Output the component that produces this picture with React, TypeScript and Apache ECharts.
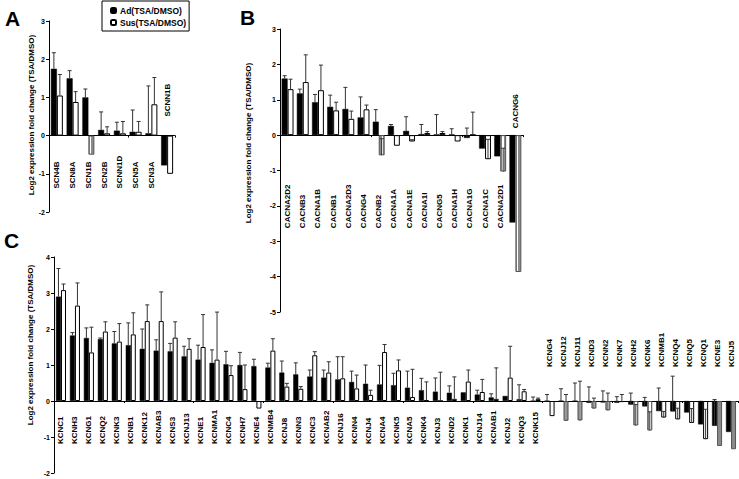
import React, { useEffect, useRef } from "react";
import * as echarts from "echarts";

// ---------------- DATA ----------------
const catsA = ["SCN4B", "SCN8A", "SCN1B", "SCN2B", "SCNN1D", "SCN5A", "SCN3A", "SCNN1B"];
const adA = [1.75, 1.5, 1.0, 0.15, 0.13, 0.1, 0.06, -0.78];
const adErrA = [0.42, 0.2, 0.22, 0.47, 0.22, 0.57, 1.24, 0];
const susA = [1.05, 0.88, -0.5, 0.06, 0.06, 0.1, 0.82, -1.0];
const susErrA = [0.55, 0.27, 0, 0.17, 0.31, 0.27, 0.7, 0];

const catsB = ["CACNA2D2", "CACNB3", "CACNA1B", "CACNB1", "CACNA2D3", "CACNG4", "CACNB2", "CACNA1A",
  "CACNA1E", "CACNA1I", "CACNG5", "CACNA1H", "CACNA1G", "CACNA1C", "CACNA2D1", "CACNG6"];
const adB = [1.6, 1.18, 0.93, 0.8, 0.74, 0.5, 0.38, 0.26, 0.12, 0.03, 0.02, 0.02, -0.08, -0.38, -0.6, -2.47];
const adErrB = [0.08, 0.12, 0.22, 0.33, 0.61, 0.58, 0.34, 0.04, 0.4, 0.27, 0.56, 0.16, 0.28, 0, 0, 0];
const susB = [1.3, 1.5, 1.27, 0.7, 0.46, 0.73, -0.57, -0.3, -0.18, 0.06, 0.06, -0.18, 0.01, -0.68, -1.03, -3.87];
const susErrB = [0.28, 0.77, 0.71, 0.23, 0.22, 0.12, 0.47, 0, 0.05, 0.04, 0.04, 0, 0.64, 0.56, 0.66, 0];

const catsC = ["KCNC1", "KCNH3", "KCNG1", "KCNQ2", "KCNK3", "KCNB1", "KCNK12", "KCNAB3", "KCNS3", "KCNJ13",
  "KCNE1", "KCNMA1", "KCNC4", "KCNH7", "KCNE4", "KCNMB4", "KCNJ8", "KCNN3", "KCNC3", "KCNAB2", "KCNJ16",
  "KCNN4", "KCNJ4", "KCNA4", "KCNK5", "KCNA5", "KCNK4", "KCNJ3", "KCND2", "KCNK1", "KCNJ14", "KCNAB1",
  "KCNJ2", "KCNQ3", "KCNK15", "KCNG4", "KCNJ12", "KCNJ11", "KCND3", "KCNN2", "KCNK7", "KCNH2", "KCNK6",
  "KCNMB1", "KCNQ4", "KCNQ5", "KCNQ1", "KCNE3", "KCNJ5"];
const adC = [2.9, 1.82, 1.75, 1.72, 1.6, 1.55, 1.45, 1.4, 1.38, 1.24, 1.15, 1.06, 1.02, 1.0, 0.97, 0.93,
  0.79, 0.74, 0.68, 0.65, 0.6, 0.53, 0.48, 0.46, 0.44, 0.37, 0.3, 0.26, 0.23, 0.24, 0.18, 0.1, 0.14, 0.05,
  0.0, 0.0, 0.0, 0.0, -0.05, -0.04, -0.05, -0.1, -0.15, -0.28, -0.29, -0.32, -0.65, -0.69, -0.86];
const adErrC = [0.78, 0.08, 0.28, 0.03, 0.33, 0.62, 0.55, 0.3, 0.22, 0.28, 0.4, 0.36, 0.36, 0.35, 0.19, 0.12,
  0.32, 0.32, 0.18, 0.21, 0.63, 0.3, 0.52, 0.53, 0.33, 0.46, 0.33, 0.38, 0.19, 0, 0.12, 0.1, 0, 0.4,
  0.11, 0.18, 0.34, 0.5, 0.44, 0.32, 0.17, 0.32, 0.25, 0.64, 0.98, 0, 0, 0.73, 0];
const susC = [3.08, 2.65, 1.35, 1.93, 1.65, 1.85, 2.22, 2.22, 1.76, 1.45, 1.5, 1.15, 0.72, 0.33, -0.21, 1.4,
  0.4, 0.34, 1.27, 0.79, 0.63, 0.35, 0.17, 1.36, 0.85, 0.11, 0.02, 0.0, 0.06, 0.54, 0.25, 0.06, 0.65, 0.27,
  0.05, -0.42, -0.55, -0.54, -0.21, -0.26, -0.03, -0.68, -0.82, -0.46, -0.51, -0.61, -1.06, -1.25, -1.34];
const susErrC = [0.17, 0.63, 0.7, 0.27, 0.5, 0.6, 0.45, 0.81, 0.44, 0.28, 0.9, 1.32, 0.26, 0.67, 0, 0.33,
  0.09, 0.06, 0.1, 0.3, 0.6, 0.37, 0.13, 0.21, 0.29, 0.77, 0.51, 0.8, 0.61, 0.32, 0.35, 0.86, 0.87, 0.05,
  0.03, 0, 0.73, 1.09, 0.29, 0.48, 0.21, 0.58, 0.52, 0.17, 0.31, 0.4, 0.83, 0, 0];

const yTicksA = [-2, 3];
const yTicksB = [-5, 3];
const yTicksC = [-2, 4];

const AD_NAME = "Ad(TSA/DMSO)";
const SUS_NAME = "Sus(TSA/DMSO)";
const Y_NAME = "Log2 expression fold change (TSA/DMSO)";

// ---------------- STYLE ----------------
const FONT = '"Liberation Sans", Arial, Helvetica, sans-serif';
const HATCHED_SUS = new Set(["SCN1B", "CACNB2", "CACNA2D1", "CACNG6", "KCNJ12", "KCNJ11", "KCND3",
  "KCNN2", "KCNH2", "KCNK6", "KCNE3", "KCNJ5"]);

type Panel = {
  cats: string[]; ad: number[]; adErr: number[]; sus: number[]; susErr: number[];
  range: number[]; grid: { left: number; top: number; width: number; height: number };
  gap: number; labelBelow: number; labelAbove: number; aboveFrom: number;
};

const panels: Panel[] = [
  { cats: catsA, ad: adA, adErr: adErrA, sus: susA, susErr: susErrA, range: yTicksA,
    grid: { left: 49, top: 21, width: 126, height: 191 }, gap: 0.24, labelBelow: 53, labelAbove: 19, aboveFrom: 7 },
  { cats: catsB, ad: adB, adErr: adErrB, sus: susB, susErr: susErrB, range: yTicksB,
    grid: { left: 280, top: 29, width: 243, height: 283 }, gap: 0.22, labelBelow: 93, labelAbove: 7, aboveFrom: 15 },
  { cats: catsC, ad: adC, adErr: adErrC, sus: susC, susErr: susErrC, range: yTicksC,
    grid: { left: 54, top: 257, width: 684, height: 216 }, gap: 0.28, labelBelow: 43, labelAbove: 34, aboveFrom: 35 },
];

function hatch() {
  return new echarts.graphic.LinearGradient(0, 0, 1, 0, [
    { offset: 0, color: "#8a8a8a" }, { offset: 0.3, color: "#8a8a8a" },
    { offset: 0.3, color: "#ffffff" }, { offset: 0.45, color: "#ffffff" },
    { offset: 0.45, color: "#8a8a8a" }, { offset: 0.55, color: "#8a8a8a" },
    { offset: 0.55, color: "#ffffff" }, { offset: 0.7, color: "#ffffff" },
    { offset: 0.7, color: "#8a8a8a" }, { offset: 1, color: "#8a8a8a" },
  ]);
}

function buildOption() {
  const grids: any[] = [];
  const xAxes: any[] = [];
  const yAxes: any[] = [];
  const series: any[] = [];

  panels.forEach((p, gi) => {
    grids.push({ ...p.grid, containLabel: false });
    xAxes.push({
      type: "category", gridIndex: gi, data: p.cats,
      axisLine: { onZero: true, lineStyle: { color: "#000", width: 1 } },
      axisTick: { show: true, length: 2, lineStyle: { color: "#000" } },
      axisLabel: { show: false }, splitLine: { show: false },
    });
    yAxes.push({
      type: "value", gridIndex: gi, min: p.range[0], max: p.range[1], interval: 1,
      axisLine: { show: true, lineStyle: { color: "#000", width: 1 } },
      axisTick: { show: true, length: 3, lineStyle: { color: "#000" } },
      axisLabel: { fontSize: 7, fontWeight: "bold", fontFamily: FONT, color: "#000", margin: 4 },
      splitLine: { show: false },
    });

    series.push({
      type: "bar", name: AD_NAME, xAxisIndex: gi, yAxisIndex: gi, data: p.ad,
      barGap: "0%", barCategoryGap: `${p.gap * 100}%`,
      itemStyle: { color: "#000", borderColor: "#000", borderWidth: 0.5 },
    });
    series.push({
      type: "bar", name: SUS_NAME, xAxisIndex: gi, yAxisIndex: gi,
      data: p.sus.map((v, i) => HATCHED_SUS.has(p.cats[i])
        ? { value: v, itemStyle: { color: hatch(), borderColor: "#555" } }
        : v),
      barGap: "0%", barCategoryGap: `${p.gap * 100}%`,
      itemStyle: { color: "#fff", borderColor: "#000", borderWidth: 1 },
    });

    const errData: any[] = [];
    p.ad.forEach((v, i) => errData.push([i, v, p.adErr[i], -1]));
    p.sus.forEach((v, i) => errData.push([i, v, p.susErr[i], 1]));
    series.push({
      type: "custom", xAxisIndex: gi, yAxisIndex: gi, z: 5, silent: true,
      data: errData,
      renderItem: (params: any, api: any) => {
        const idx = api.value(0);
        const v = api.value(1);
        const e = api.value(2);
        const side = api.value(3);
        if (!e) return null;
        const band = api.size([1, 0])[0];
        const off = side * band * (1 - p.gap) / 4;
        const a = api.coord([idx, v]);
        const b = api.coord([idx, v + e]);
        const x = a[0] + off;
        const st = { stroke: "#333", lineWidth: 1 };
        return {
          type: "group",
          children: [
            { type: "line", shape: { x1: x, y1: a[1], x2: x, y2: b[1] }, style: st },
            { type: "line", shape: { x1: x - 2, y1: b[1], x2: x + 2, y2: b[1] }, style: st },
          ],
        };
      },
    });

    series.push({
      type: "custom", xAxisIndex: gi, yAxisIndex: gi, z: 6, silent: true, clip: false,
      data: p.cats.map((c, i) => [i, 0]),
      renderItem: (params: any, api: any) => {
        const idx = api.value(0);
        const pt = api.coord([idx, 0]);
        const above = idx >= p.aboveFrom;
        return {
          type: "text",
          x: pt[0],
          y: above ? pt[1] - p.labelAbove : pt[1] + p.labelBelow,
          rotation: Math.PI / 2,
          style: {
            text: p.cats[idx], textAlign: "left", textVerticalAlign: "middle",
            fontSize: 8, fontWeight: "bold", fontFamily: FONT, fill: "#000",
          },
        };
      },
    });
  });

  const letter = (t: string, x: number, y: number) => ({
    type: "text", x, y,
    style: { text: t, fontSize: 21, fontWeight: "bold", fontFamily: FONT, fill: "#000",
      textAlign: "left", textVerticalAlign: "middle" },
  });
  const yname = (x: number, y: number) => ({
    type: "text", x, y, rotation: Math.PI / 2,
    style: { text: Y_NAME, fontSize: 8, fontWeight: "bold", fontFamily: FONT, fill: "#000",
      textAlign: "center", textVerticalAlign: "middle" },
  });

  return {
    animation: false,
    backgroundColor: "#fff",
    grid: grids,
    xAxis: xAxes,
    yAxis: yAxes,
    series,
    legend: {
      data: [AD_NAME, SUS_NAME], orient: "vertical", left: 102, top: 1,
      selectedMode: false, borderColor: "#000", borderWidth: 1,
      padding: [5, 3, 4, 8], itemWidth: 5, itemHeight: 5, itemGap: 3,
      textStyle: { fontSize: 8.5, fontWeight: "bold", fontFamily: FONT, color: "#000", padding: [0, 0, 0, -1] },
    },
    graphic: [
      letter("A", 5, 18),
      letter("B", 240, 17),
      letter("C", 4, 240),
      yname(31, 115),
      yname(248, 143),
      yname(30, 345),
    ],
  };
}

export default function App() {
  const ref = useRef<HTMLDivElement>(null);
  useEffect(() => {
    if (!ref.current) return;
    const chart = echarts.init(ref.current, null, { renderer: "svg" });
    chart.setOption(buildOption() as any);
    return () => chart.dispose();
  }, []);
  return (
    <div
      ref={ref}
      style={{ position: "absolute", left: 0, top: 0, width: 739, height: 479, background: "#fff" }}
    />
  );
}
